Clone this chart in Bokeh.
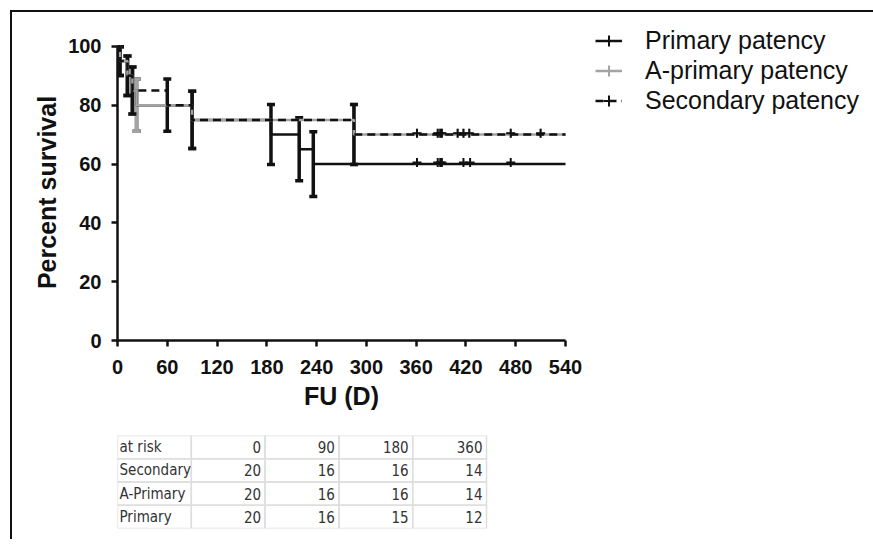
from bokeh.plotting import figure
from bokeh.models import (Range1d, FixedTicker, Legend, LegendItem, Whisker, TeeHead,
                          ColumnDataSource, Title)
from bokeh.layouts import column
from bokeh.embed import file_html
from bokeh.resources import INLINE
from bokeh.core.properties import value

# ---------------- data ----------------
x_ticks = [0, 60, 120, 180, 240, 300, 360, 420, 480, 540]
y_ticks = [0, 20, 40, 60, 80, 100]

# Kaplan-Meier steps: time (days) and survival (%) after each step
primary_t = [0, 3, 12, 18, 23, 90, 185, 219, 236, 540]
primary_s = [100, 95, 90, 85, 80, 75, 70, 65, 60, 60]
aprimary_t = [0, 3, 12, 18, 23, 90, 285, 540]
aprimary_s = [100, 95, 90, 85, 80, 75, 70, 70]
secondary_t = [0, 3, 12, 18, 60, 90, 285, 540]
secondary_s = [100, 95, 90, 85, 80, 75, 70, 70]

# error bars at each event (lower, upper)
primary_lo = [90.1, 83.3, 77.0, 71.1, 65.3, 59.8, 54.3, 49.0]
primary_hi = [99.9, 96.7, 93.0, 88.9, 84.7, 80.2, 75.7, 71.0]
aprimary_lo = [90.1, 83.3, 77.0, 71.1, 65.3, 59.8]
aprimary_hi = [99.9, 96.7, 93.0, 88.9, 84.7, 80.2]
secondary_lo = [90.1, 83.3, 77.0, 71.1, 65.3, 59.8]
secondary_hi = [99.9, 96.7, 93.0, 88.9, 84.7, 80.2]

# censored observations
primary_ct = [361, 386, 389, 391, 417, 425, 474]
primary_cs = [60, 60, 60, 60, 60, 60, 60]
aprimary_ct = [361, 386, 389, 391, 410, 417, 424, 474, 510]
aprimary_cs = [70, 70, 70, 70, 70, 70, 70, 70, 70]
secondary_ct = [361, 386, 389, 391, 410, 417, 424, 474, 510]
secondary_cs = [70, 70, 70, 70, 70, 70, 70, 70, 70]

# number at risk table
risk_header = ["at risk", "0", "90", "180", "360"]
risk_groups = ["Secondary", "A-Primary", "Primary"]
risk_secondary = [20, 16, 16, 14]
risk_aprimary = [20, 16, 16, 14]
risk_primary = [20, 16, 15, 12]

# ---------------- layout constants (pixels) ----------------
FONT = "Liberation Sans"
BLACK = "#111111"
GRAY = "#a3a3a3"
W, H = 861, 400
BL, BR, BT, BB = 105, 13, 13, 70     # frame borders (shared left/right)
AXIS_W, AXIS_H = 448, 296            # pixel length of the 0-540 and 0-100 axes
FRAME_W = W - BL - BR
FRAME_H = H - BT - BB
TITLE_PX = 25
XLABEL_W = 2.999 * TITLE_PX          # Arial-bold advance width of "FU (D)"
YLABEL_W = 7.726 * TITLE_PX          # Arial-bold advance width of "Percent survival"

p = figure(width=W, height=H, output_backend="svg", toolbar_location=None,
           x_range=Range1d(0, 540 * FRAME_W / AXIS_W),
           y_range=Range1d(0, 100 * FRAME_H / AXIS_H),
           min_border_left=BL, min_border_right=BR, min_border_top=BT,
           min_border_bottom=BB)
p.outline_line_color = None
p.grid.visible = False
p.background_fill_color = "white"
p.border_fill_color = "white"

for ax in (p.xaxis, p.yaxis):
    ax.axis_line_width = 2.5
    ax.axis_line_color = BLACK
    ax.major_tick_line_width = 2.5
    ax.major_tick_line_color = BLACK
    ax.major_tick_out = 6
    ax.major_tick_in = 0
    ax.minor_tick_line_color = None
    ax.major_label_text_font = FONT
    ax.major_label_text_font_size = "20px"
    ax.major_label_text_font_style = "bold"
    ax.major_label_text_color = BLACK

p.xaxis.ticker = FixedTicker(ticks=x_ticks)
p.yaxis.ticker = FixedTicker(ticks=y_ticks)
p.xaxis.bounds = (0, 540)
p.yaxis.bounds = (0, 100)
p.xaxis.major_label_standoff = 13
p.yaxis.major_label_standoff = 10

# axis titles centred on the drawn axes (not on the wider frame)
p.add_layout(Title(text="FU (D)", align="left",
                   offset=(AXIS_W - XLABEL_W) / 2, standoff=6, text_font=FONT,
                   text_font_size=f"{TITLE_PX}px", text_font_style="bold",
                   text_color=BLACK), "below")
p.add_layout(Title(text="Percent survival", align="left",
                   offset=(AXIS_H - YLABEL_W) / 2, standoff=9, text_font=FONT,
                   text_font_size=f"{TITLE_PX}px", text_font_style="bold",
                   text_color=BLACK), "left")


def add_curve(t, s, lo, hi, ct, cs, color, dash):
    line = p.step(t, s, mode="after", line_color=color, line_width=2.5,
                  line_dash=dash)
    src = ColumnDataSource(dict(x=t[1:len(lo) + 1], lo=lo, hi=hi))
    w = Whisker(base="x", lower="lo", upper="hi", source=src, dimension="height",
                line_color=color, line_width=3.5,
                upper_head=TeeHead(size=8, line_width=3.5, line_color=color),
                lower_head=TeeHead(size=8, line_width=3.5, line_color=color))
    p.add_layout(w)
    cens = p.scatter(ct, [v + 0.5 for v in cs], marker="cross", size=9,
                     line_color=color, line_width=2)
    return line, cens


pl, pc = add_curve(primary_t, primary_s, primary_lo, primary_hi,
                   primary_ct, primary_cs, BLACK, "solid")
al, ac = add_curve(aprimary_t, aprimary_s, aprimary_lo, aprimary_hi,
                   aprimary_ct, aprimary_cs, GRAY, "solid")
sl, sc = add_curve(secondary_t, secondary_s, secondary_lo, secondary_hi,
                   secondary_ct, secondary_cs, BLACK, "8 5")

legend = Legend(items=[
    LegendItem(label="Primary patency", renderers=[pl, pc]),
    LegendItem(label="A-primary patency", renderers=[al, ac]),
    LegendItem(label="Secondary patency", renderers=[sl, sc]),
], location=(478, 225), padding=0, margin=0, spacing=1,
    glyph_width=27, glyph_height=29, label_height=29, label_standoff=23,
    label_text_font=FONT, label_text_font_size="25px", label_text_color=BLACK,
    background_fill_alpha=0, border_line_color=None)
p.add_layout(legend)

# ---------------- at-risk table ----------------
TABLE_W = 369                 # pixel width of the table
ncols = len(risk_header)
t = figure(width=W, height=127, output_backend="svg", toolbar_location=None,
           x_range=Range1d(0, ncols * FRAME_W / TABLE_W),
           y_range=Range1d(4, 0),
           x_axis_type=None, y_axis_type=None,
           min_border_left=BL, min_border_right=BR, min_border_top=23,
           min_border_bottom=11)
t.outline_line_color = None
t.grid.visible = False

rows = [risk_header] + [[g] + [str(v) for v in vals] for g, vals in
                        zip(risk_groups, [risk_secondary, risk_aprimary, risk_primary])]
cx, cy = [], []
lx, ly, lt, vx, vy, vt = [], [], [], [], [], []
for r, row in enumerate(rows):
    lx.append(0)
    ly.append(r + 0.5)
    lt.append(row[0])
    for c in range(ncols):
        cx.append(c + 0.5)
        cy.append(r + 0.5)
    for c, cell in enumerate(row[1:]):
        vx.append(c + 2)
        vy.append(r + 0.5)
        vt.append(cell)

t.rect(cx, cy, width=1, height=1, fill_color=None, line_color="#dedede",
       line_width=1.5)

TFONT = value("'DejaVu Sans Condensed', 'Liberation Sans'")
t.text(lx, ly, text=lt, text_align="left", text_baseline="middle", x_offset=2,
       text_font=TFONT, text_font_size="15px", text_color="#333333")
t.text(vx, vy, text=vt, text_align="right", text_baseline="middle", x_offset=-4,
       text_font=TFONT, text_font_size="15px", text_color="#333333")

layout = column(p, t, styles={"border-left": "2px solid #111111",
                              "border-top": "2px solid #111111",
                              "margin-left": "10px", "margin-top": "10px"})

open("out.html", "w").write(file_html(layout, INLINE))
